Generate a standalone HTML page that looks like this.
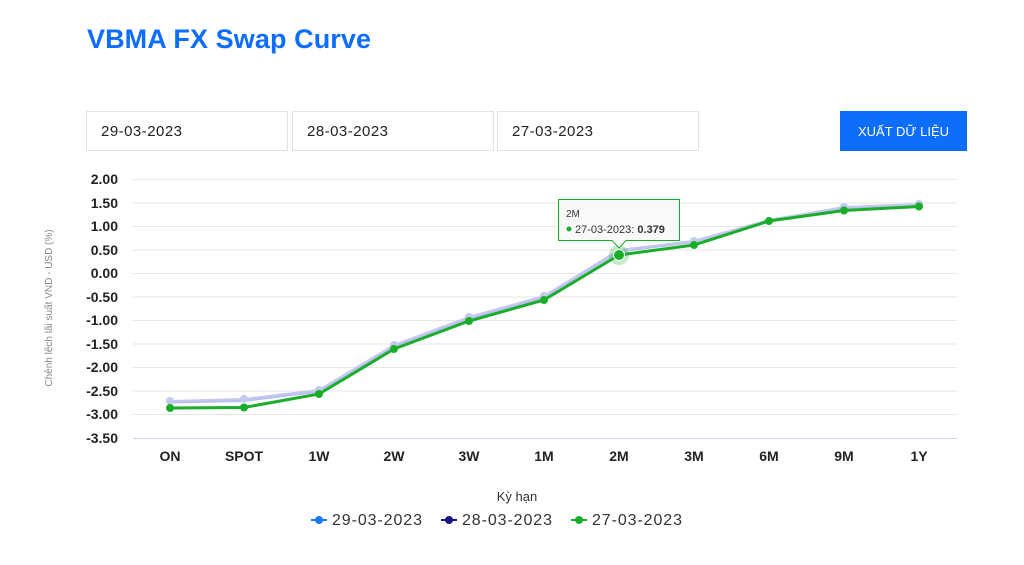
<!DOCTYPE html>
<html><head><meta charset="utf-8"><style>
html,body{margin:0;padding:0;background:#fff;width:1024px;height:565px;overflow:hidden;font-family:"Liberation Sans",sans-serif}
</style></head><body>
<svg width="1024" height="565" viewBox="0 0 1024 565" xmlns="http://www.w3.org/2000/svg" font-family="Liberation Sans, sans-serif">
<text x="87" y="48" font-size="27" font-weight="bold" fill="#0d6efd" textLength="284">VBMA FX Swap Curve</text>
<g fill="#fff" stroke="#e3e3e3">
<rect x="86.5" y="111.5" width="201" height="39"/>
<rect x="292.5" y="111.5" width="201" height="39"/>
<rect x="497.5" y="111.5" width="201" height="39"/>
</g>
<g font-size="15" fill="#222">
<text x="101" y="136" textLength="81">29-03-2023</text>
<text x="307" y="136" textLength="81">28-03-2023</text>
<text x="512" y="136" textLength="81">27-03-2023</text>
</g>
<rect x="840" y="111" width="127" height="40" fill="#0d6efd"/>
<text x="903.5" y="136" font-size="13" fill="#fff" text-anchor="middle">XUẤT DỮ LIỆU</text>
<g stroke="#e6e6e6" stroke-width="1">
<line x1="133" x2="957" y1="179.5" y2="179.5"/><line x1="133" x2="957" y1="203" y2="203"/>
<line x1="133" x2="957" y1="226.5" y2="226.5"/><line x1="133" x2="957" y1="250" y2="250"/>
<line x1="133" x2="957" y1="273.5" y2="273.5"/><line x1="133" x2="957" y1="297" y2="297"/>
<line x1="133" x2="957" y1="320.5" y2="320.5"/><line x1="133" x2="957" y1="344" y2="344"/>
<line x1="133" x2="957" y1="367.5" y2="367.5"/><line x1="133" x2="957" y1="391" y2="391"/>
<line x1="133" x2="957" y1="414.5" y2="414.5"/>
</g>
<line x1="133" x2="957" y1="438.5" y2="438.5" stroke="#ccd6eb"/>
<g font-size="14" font-weight="bold" fill="#222" text-anchor="end">
<text x="118" y="184">2.00</text><text x="118" y="208">1.50</text><text x="118" y="231">1.00</text>
<text x="118" y="255">0.50</text><text x="118" y="278">0.00</text><text x="118" y="302">-0.50</text>
<text x="118" y="325">-1.00</text><text x="118" y="349">-1.50</text><text x="118" y="372">-2.00</text>
<text x="118" y="396">-2.50</text><text x="118" y="419">-3.00</text><text x="118" y="443">-3.50</text>
</g>
<text transform="translate(52,308) rotate(-90)" font-size="10" fill="#888" text-anchor="middle">Chênh lệch lãi suất VND - USD (%)</text>
<g font-size="14" font-weight="bold" fill="#222" text-anchor="middle">
<text x="170" y="461">ON</text><text x="244" y="461">SPOT</text><text x="319" y="461">1W</text>
<text x="394" y="461">2W</text><text x="469" y="461">3W</text><text x="544" y="461">1M</text>
<text x="619" y="461">2M</text><text x="694" y="461">3M</text><text x="769" y="461">6M</text>
<text x="844" y="461">9M</text><text x="919" y="461">1Y</text>
</g>
<polyline fill="none" stroke="#b9bdf0" stroke-width="3" points="170,402 244,400.5 319,391 394,346 469,318 544,297 619,251 694,241.5 769,220.5 844,208 919,206"/>
<polyline fill="none" stroke="#c4c8ee" stroke-width="2" points="170,401 244,399 319,390 394,345 469,317 544,296 619,250 694,241 769,220 844,207 919,204"/>
<g fill="#c5c9ee">
<circle cx="170" cy="401" r="4"/><circle cx="244" cy="399" r="4"/><circle cx="319" cy="390" r="4"/><circle cx="394" cy="345" r="4"/><circle cx="469" cy="317" r="4"/><circle cx="544" cy="296" r="4"/><circle cx="694" cy="241" r="4"/><circle cx="844" cy="207" r="4"/><circle cx="919" cy="204" r="4"/>
</g>
<polyline fill="none" stroke="#1aad2a" stroke-width="3" points="170,408 244,407.5 319,394 394,349 469,321 544,300 619,255 694,245 769,221 844,210.5 919,206.5"/>
<g fill="#1aad2a">
<circle cx="170" cy="408" r="4"/><circle cx="244" cy="407.5" r="4"/><circle cx="319" cy="394" r="4"/><circle cx="394" cy="349" r="4"/><circle cx="469" cy="321" r="4"/><circle cx="544" cy="300" r="4"/><circle cx="694" cy="245" r="4"/><circle cx="769" cy="221" r="4"/><circle cx="844" cy="210.5" r="4"/><circle cx="919" cy="206.5" r="4"/>
<circle cx="619" cy="255" r="10" fill="#1aad2a" opacity="0.25"/>
<circle cx="619" cy="255" r="5.5" stroke="#fff" stroke-width="1"/>
</g>
<path d="M558.5,199.5 H679.5 V240.5 H626 L619,248 L612,240.5 H558.5 Z" fill="#f9f9f9" fill-opacity="0.95" stroke="#1aad2a"/>
<text x="566" y="217" font-size="10" fill="#333">2M</text>
<circle cx="569" cy="229" r="2.5" fill="#1aad2a"/>
<text x="575" y="233" font-size="11" fill="#333">27-03-2023: <tspan font-weight="bold">0.379</tspan></text>
<text x="517" y="501" font-size="13" fill="#333" text-anchor="middle">Kỳ hạn</text>
<g font-size="16" fill="#333">
<line x1="311" x2="327" y1="520" y2="520" stroke="#1f77f4" stroke-width="2"/><circle cx="319" cy="520" r="4" fill="#1f77f4"/>
<text x="332" y="525" textLength="90">29-03-2023</text>
<line x1="441" x2="457" y1="520" y2="520" stroke="#1c1585" stroke-width="2"/><circle cx="449" cy="520" r="4" fill="#1c1585"/>
<text x="462" y="525" textLength="90">28-03-2023</text>
<line x1="571" x2="587" y1="520" y2="520" stroke="#1aad2a" stroke-width="2"/><circle cx="579" cy="520" r="4" fill="#1aad2a"/>
<text x="592" y="525" textLength="90">27-03-2023</text>
</g>
</svg>
</body></html>
